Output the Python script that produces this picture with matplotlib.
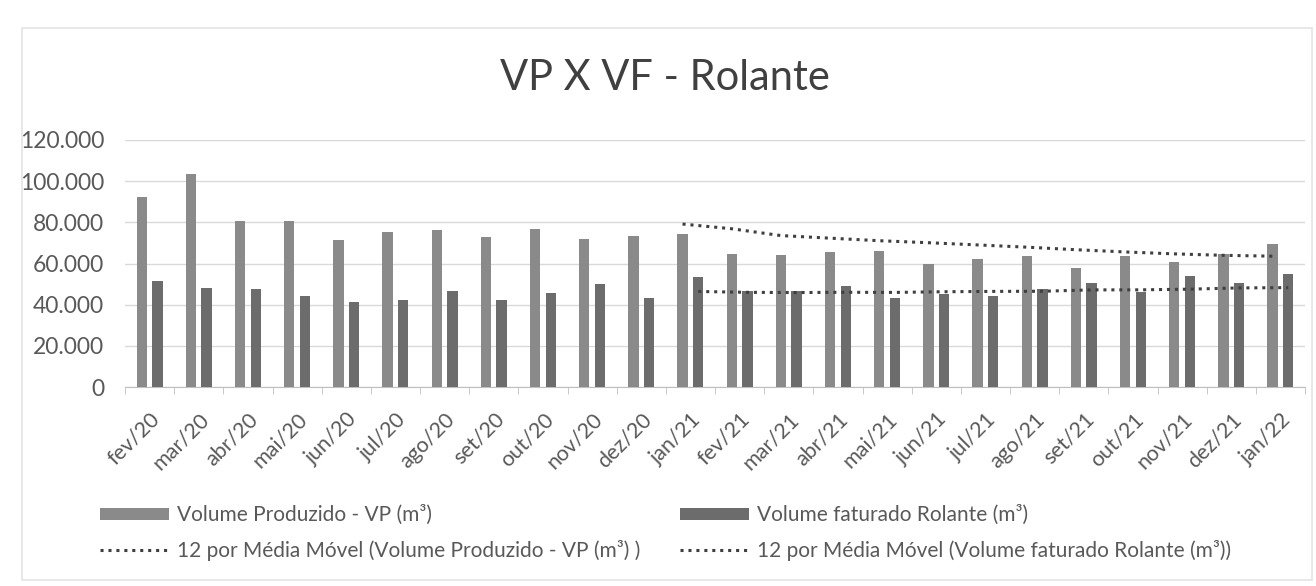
import numpy as np
import pandas as pd
import matplotlib
matplotlib.use("Agg")
import matplotlib.pyplot as plt
from matplotlib.patches import Rectangle
from matplotlib.ticker import FuncFormatter

plt.rcParams["font.family"] = ["Lato", "DejaVu Sans"]

# data (m3)
months = ["fev/20", "mar/20", "abr/20", "mai/20", "jun/20", "jul/20", "ago/20",
          "set/20", "out/20", "nov/20", "dez/20", "jan/21", "fev/21", "mar/21",
          "abr/21", "mai/21", "jun/21", "jul/21", "ago/21", "set/21", "out/21",
          "nov/21", "dez/21", "jan/22"]
vol_produzido = [92100, 103700, 80600, 80800, 71500, 75300, 76500, 72900, 76600,
                 72100, 73400, 74500, 64600, 64000, 65500, 66000, 59800, 62400,
                 63500, 58000, 63600, 60900, 64800, 69600]
vol_faturado = [51600, 47900, 47600, 44000, 41500, 42200, 46800, 42500, 45700,
                50200, 43400, 53600, 46500, 46600, 49200, 43300, 45400, 44200,
                47600, 50500, 46000, 54100, 50700, 55100]

# 12-period moving averages, as the chart's trendlines
ma_vp = pd.Series(vol_produzido).rolling(12).mean()
ma_vf = pd.Series(vol_faturado).rolling(12).mean()

GRAY_TXT = "#595959"
C_VP = "#8a8a8a"
C_VF = "#6c6c6c"
C_MA = "#3f3f3f"

fig = plt.figure(figsize=(13.16, 5.86), dpi=100)
fig.patches.append(Rectangle((22 / 1316, 6 / 586), 1290 / 1316, 552 / 586,
                             transform=fig.transFigure, fill=False,
                             edgecolor="#e4e4e4", linewidth=1.2))

ax = fig.add_axes([125 / 1316, 199 / 586, 1180 / 1316, 247 / 586])

x = np.arange(len(months))
w = 0.21
off = 0.16
b_vp = ax.bar(x - off, vol_produzido, w, color=C_VP, zorder=3)
b_vf = ax.bar(x + off, vol_faturado, w, color=C_VF, zorder=3)
l_vp, = ax.plot(x - off, ma_vp, linestyle=(0, (1, 1.6)), color=C_MA,
                linewidth=2.2, zorder=4)
l_vf, = ax.plot(x + off, ma_vf, linestyle=(0, (1, 1.6)), color=C_MA,
                linewidth=2.2, zorder=4)

ax.set_xlim(-0.5, len(months) - 0.5)
ax.set_ylim(0, 120000)
ax.set_yticks(np.arange(0, 120001, 20000))
ax.yaxis.set_major_formatter(FuncFormatter(lambda v, p: f"{int(v):,}".replace(",", ".")))
ax.grid(axis="y", color="#d9d9d9", linewidth=1, zorder=0)

for s in ["top", "right", "left"]:
    ax.spines[s].set_visible(False)
ax.spines["bottom"].set_color("#bfbfbf")

ax.set_xticks(x)
ax.set_xticklabels(months, rotation=45, ha="right", rotation_mode="anchor",
                   fontsize=15.5, color=GRAY_TXT)
ax.tick_params(axis="x", which="major", length=0, pad=16)
ax.set_xticks(np.arange(-0.5, len(months), 1), minor=True)
ax.tick_params(axis="x", which="minor", length=5, color="#bfbfbf")
ax.tick_params(axis="y", length=0, labelsize=16.5, labelcolor=GRAY_TXT, pad=15)

fig.text(0.505, 0.867, "VP X VF - Rolante", ha="center", va="center",
         fontsize=30, color="#404040")

handles = [b_vp, l_vp, b_vf, l_vf]
labels = ["Volume Produzido - VP (m³)",
          "12 por Média Móvel (Volume Produzido - VP (m³) )",
          "Volume faturado Rolante (m³)",
          "12 por Média Móvel (Volume faturado Rolante (m³))"]
fig.legend(handles, labels, ncol=2,
           loc="upper left", bbox_to_anchor=(0.062, 0.17), frameon=False,
           fontsize=15, labelcolor=GRAY_TXT, handlelength=3.3,
           handleheight=0.5, columnspacing=1.9, handletextpad=0.4,
           labelspacing=0.7)

fig.savefig("out.png", dpi=100)
